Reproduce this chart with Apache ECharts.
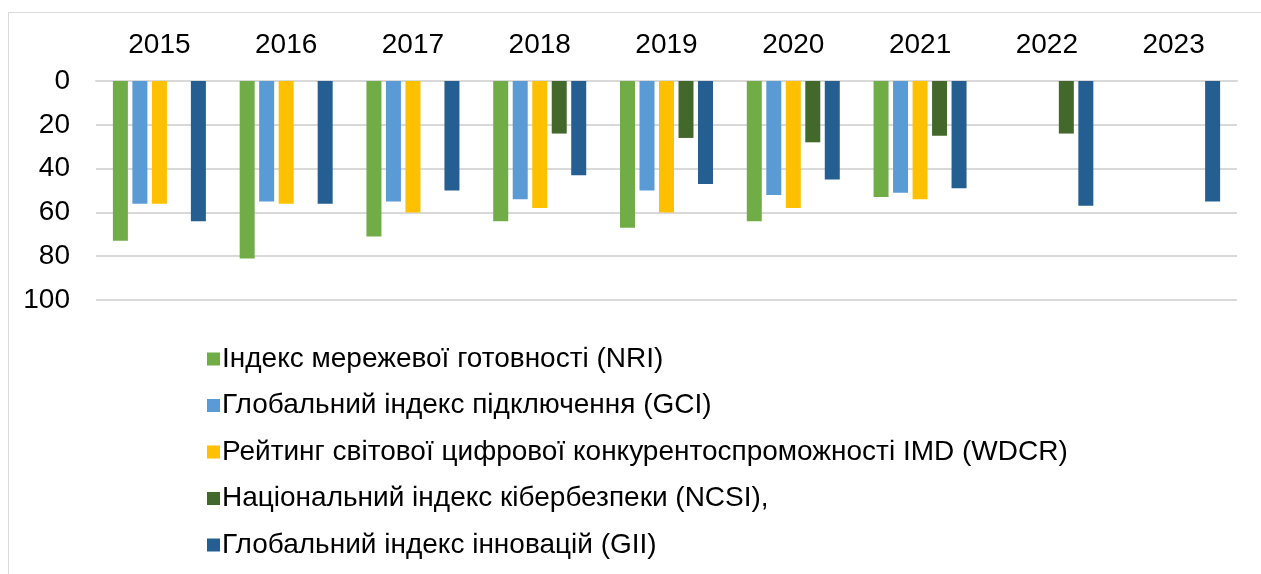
<!DOCTYPE html>
<html>
<head>
<meta charset="utf-8">
<script src="https://cdn.jsdelivr.net/npm/echarts@6/dist/echarts.min.js"></script>
<style>
  body { margin: 0; background: #fff; }
  #frame { position: absolute; left: 8px; top: 12px; width: 1260px; height: 600px; border: 1px solid #d9d9d9; }
  #chart { position: absolute; left: 0; top: 0; width: 1261px; height: 574px; }
</style>
</head>
<body>
<div id="frame"></div>
<div id="chart"></div>
<script>
// years on the top axis
var years = ['2015', '2016', '2017', '2018', '2019', '2020', '2021', '2022', '2023'];
// rank values, null = no data that year
var nri  = [73, 81, 71, 64, 67, 64, 53, null, null];
var gci  = [56, 55, 55, 54, 50, 52, 51, null, null];
var wdcr = [56, 56, 60, 58, 60, 58, 54, null, null];
var ncsi = [null, null, null, 24, 26, 28, 25, 24, null];
var gii  = [64, 56, 50, 43, 47, 45, 49, 57, 55];

var names = [
  'Індекс мережевої готовності (NRI)',
  'Глобальний індекс підключення (GCI)',
  'Рейтинг світової цифрової конкурентоспроможності IMD (WDCR)',
  'Національний індекс кібербезпеки (NCSI),',
  'Глобальний індекс інновацій (GII)'
];
var colors = ['#70ad47', '#5b9bd5', '#ffc000', '#43682b', '#255e91'];
var values = [nri, gci, wdcr, ncsi, gii];

var myChart = echarts.init(document.getElementById('chart'));
var font = 'Liberation Sans, Arial, sans-serif';

var series = [];
for (var i = 0; i < names.length; i++) {
  series.push({
    type: 'bar',
    name: names[i],
    data: values[i],
    barWidth: 15,
    barGap: '30%',
    itemStyle: { color: colors[i] }
  });
}

var option = {
  animation: false,
  color: colors,
  textStyle: { fontFamily: font },
  grid: { left: 96, right: 24, top: 81, bottom: 274 },
  legend: {
    orient: 'vertical',
    left: 202,
    top: 340,
    itemWidth: 13,
    itemHeight: 13,
    itemGap: 18.5,
    icon: 'rect',
    textStyle: { fontSize: 28, color: '#000', fontFamily: font, padding: [0, 0, 0, -3] },
    data: names
  },
  xAxis: {
    type: 'category',
    position: 'top',
    data: years,
    axisLine: { show: true, lineStyle: { color: '#d9d9d9', width: 2 } },
    axisTick: { show: false },
    axisLabel: { fontSize: 28, color: '#000', margin: 22 }
  },
  yAxis: {
    type: 'value',
    inverse: true,
    min: 0,
    max: 100,
    interval: 20,
    axisLine: { show: false },
    axisTick: { show: false },
    axisLabel: { fontSize: 28, color: '#000', margin: 26, padding: [4, 0, 0, 0] },
    splitLine: { lineStyle: { color: '#d9d9d9', width: 2 } }
  },
  series: series
};

myChart.setOption(option);
window.onresize = function() {
  myChart.resize();
};
</script>
</body>
</html>
